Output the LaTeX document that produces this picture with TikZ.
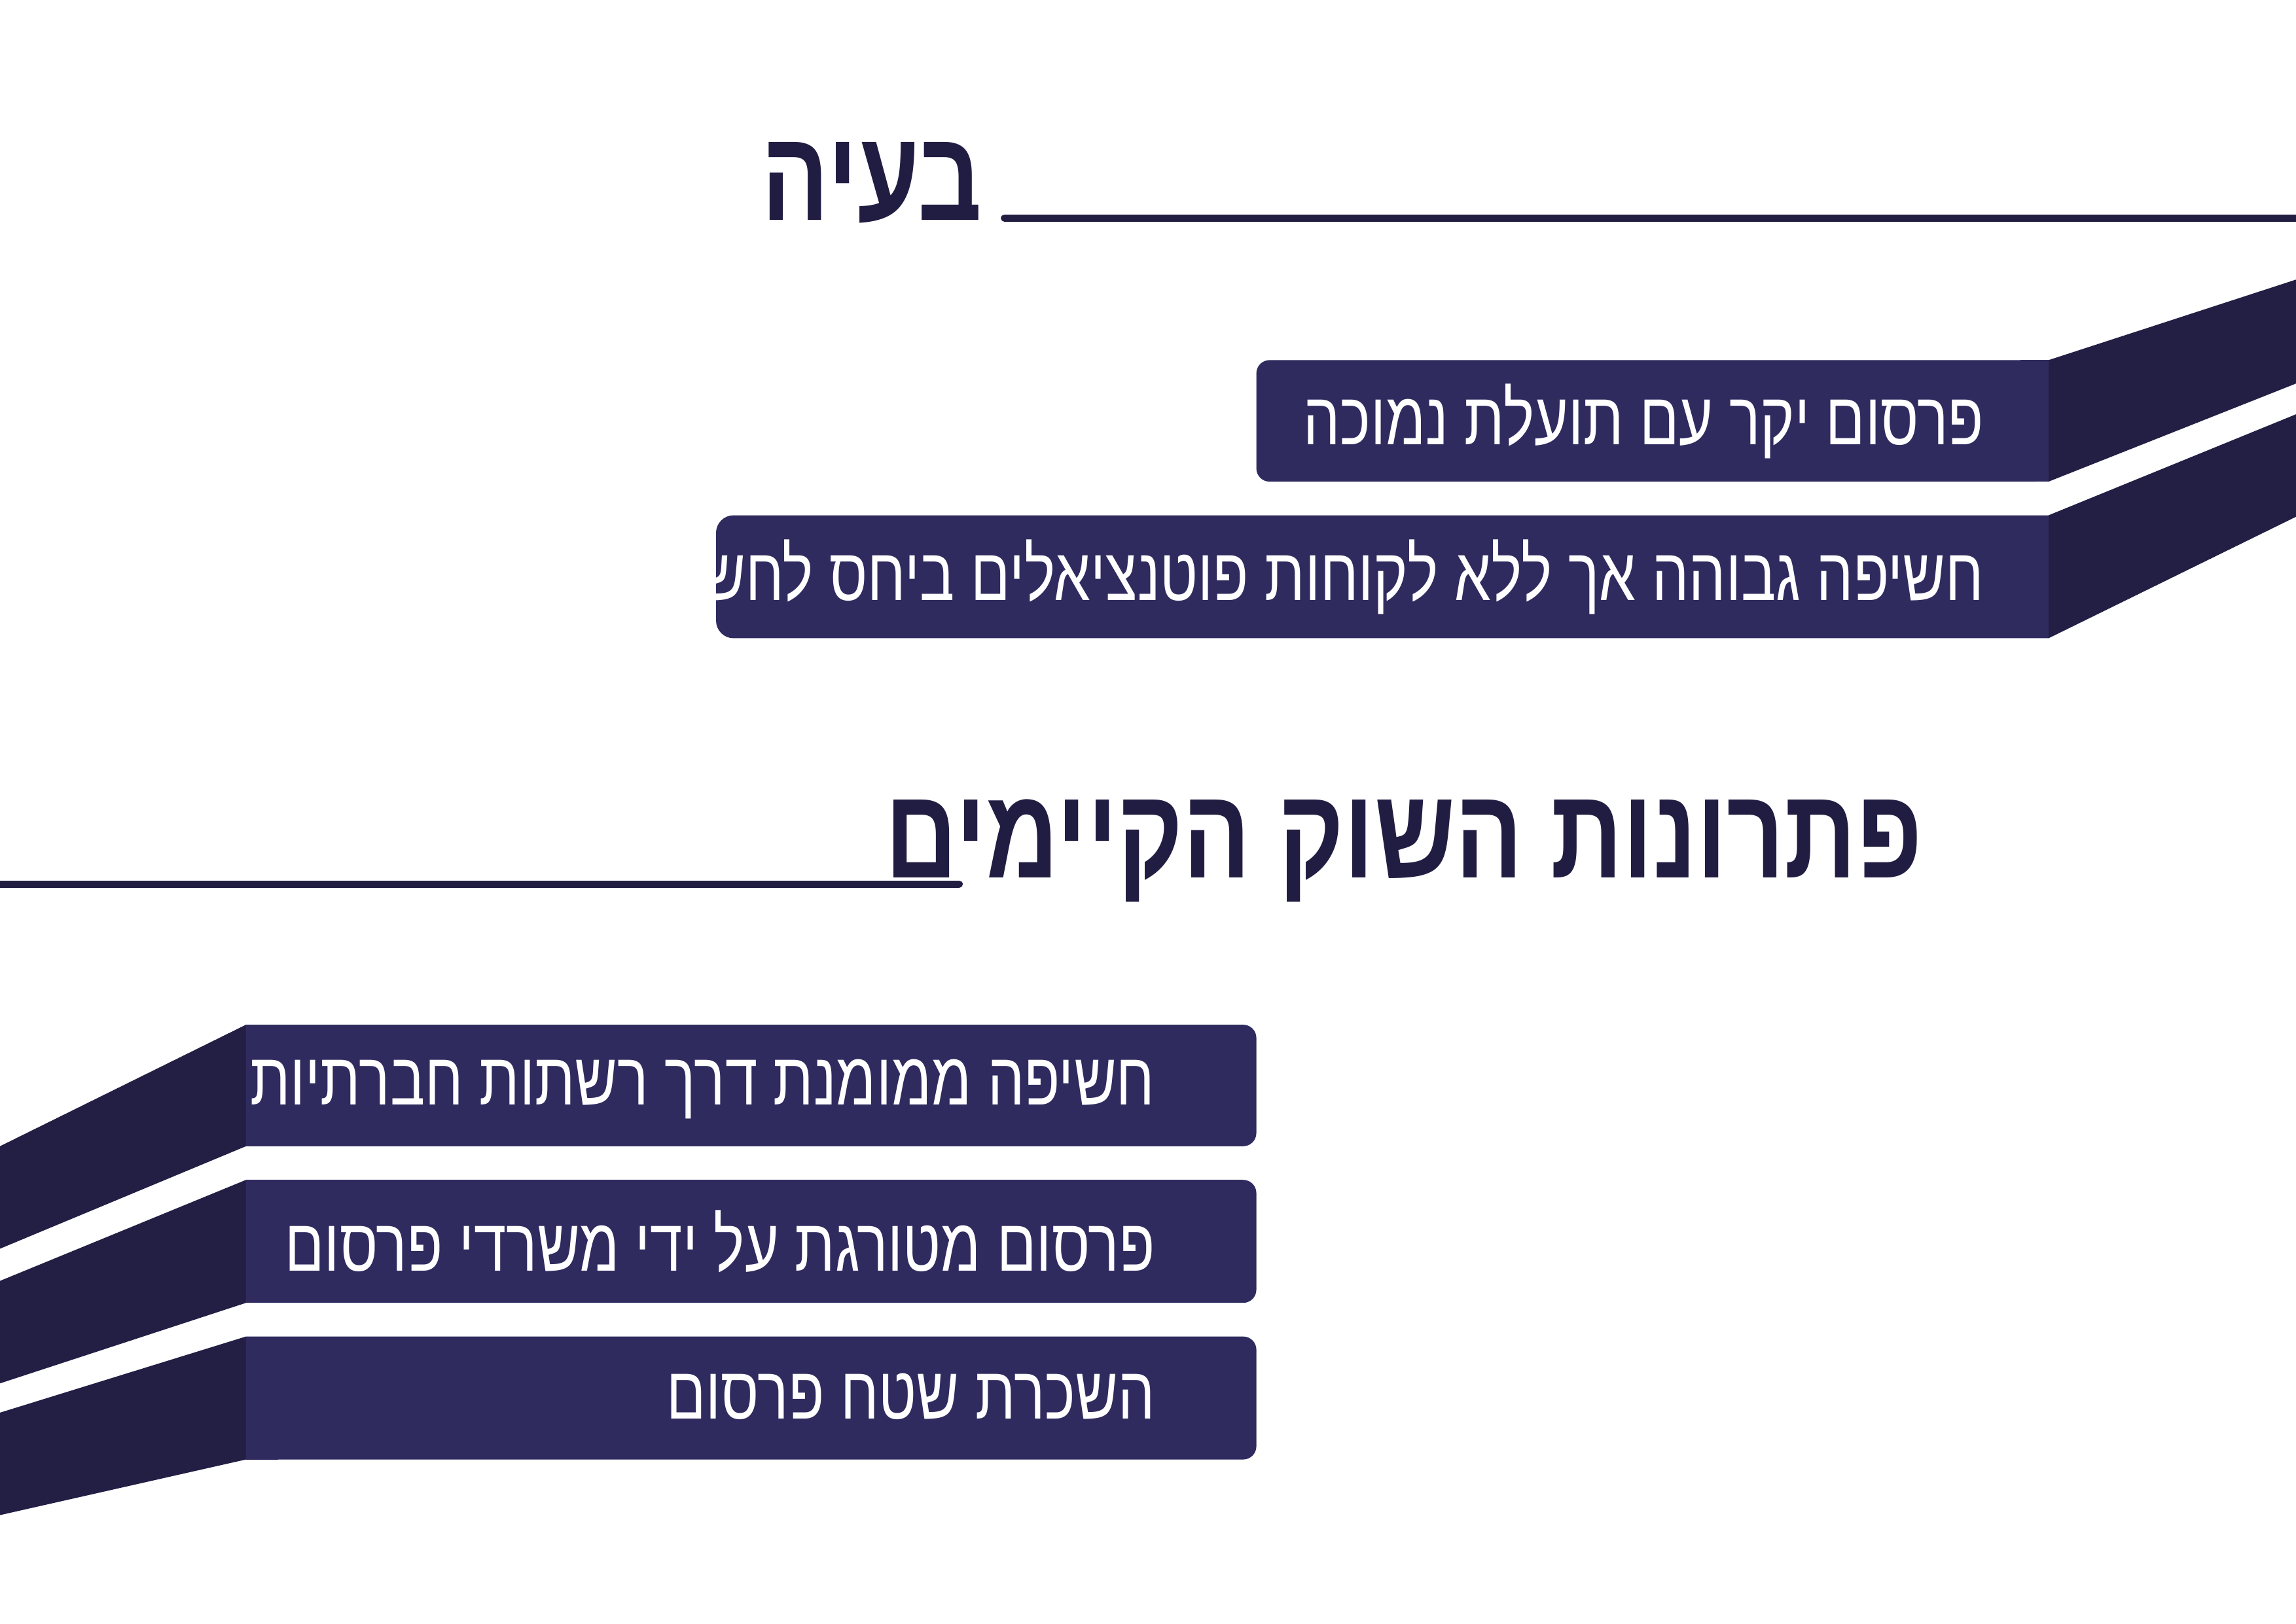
\documentclass[tikz,border=0pt]{standalone}
\usepackage{fontspec}
\TeXXeTstate=1
\newfontfamily\heb[Script=Hebrew,FakeStretch=0.78]{Liberation Sans}
\definecolor{boxc}{HTML}{2F2B5F}
\definecolor{darkc}{HTML}{221E44}
\definecolor{titc}{HTML}{211D42}
\tikzset{
 x=0.02cm,y=-0.02cm,
 lbl/.style={anchor=east,text=white,font=\heb\fontsize{29}{32}\selectfont,inner sep=0},
 ttl/.style={anchor=east,text=titc,font=\heb\bfseries\fontsize{50}{56}\selectfont,inner sep=0},
 rule/.style={draw=titc,line width=5*0.02cm,line cap=round},
}
\begin{document}
\begin{tikzpicture}
\useasboundingbox (0,0) rectangle (1568,1109);
\fill[white] (0,0) rectangle (1568,1109);
% titles
\node[ttl] (t1) at (671,125) {\beginR בעיה\endR};
\coordinate (l1a) at (686,149); \coordinate (l1b) at (1568,149);
\draw[rule] (l1a) -- (l1b);
\node[ttl] (t2) at (1313,581) {\beginR פתרונות השוק הקיימים\endR};
\coordinate (l2a) at (0,604); \coordinate (l2b) at (655,604);
\draw[rule] (l2a) -- (l2b);
% top boxes
\fill[darkc] (1399,246) -- (1568,191) -- (1568,262) -- (1399,329) -- cycle;
\fill[boxc,rounded corners=9*0.02cm] (1399,246) -- (858,246) -- (858,329) -- (1399,329) [sharp corners] -- cycle;
\fill[boxc] (1380,246) rectangle (1399,329);
\node[lbl] (b1) at (1355,288) {\beginR פרסום יקר עם תועלת נמוכה\endR};
\fill[darkc] (1399,352) -- (1568,283) -- (1568,353) -- (1399,436) -- cycle;
\fill[boxc,rounded corners=12*0.02cm] (1399,352) -- (489,352) -- (489,436) -- (1399,436);
\fill[boxc] (1380,352) rectangle (1399,436);
\node[lbl] (b2) at (1355,394) {\beginR חשיפה גבוהה אך ללא לקוחות פוטנציאלים ביחס לחשיפה\endR};
% bottom boxes
\fill[darkc] (0,783) -- (168,700) -- (168,783) -- (0,853) -- cycle;
\fill[boxc,rounded corners=9*0.02cm] (168,700) -- (858,700) -- (858,783) -- (168,783);
\fill[boxc] (168,700) rectangle (190,783);
\node[lbl] (b3) at (789,744) {\beginR חשיפה ממומנת דרך רשתות חברתיות\endR};
\fill[darkc] (0,875) -- (168,806) -- (168,890) -- (0,945) -- cycle;
\fill[boxc,rounded corners=9*0.02cm] (168,806) -- (858,806) -- (858,890) -- (168,890);
\fill[boxc] (168,806) rectangle (190,890);
\node[lbl] (b4) at (789,848) {\beginR פרסום מטורגת על ידי משרדי פרסום\endR};
\fill[darkc] (0,965) -- (168,913) -- (168,997) -- (0,1035) -- cycle;
\fill[boxc,rounded corners=9*0.02cm] (168,913) -- (858,913) -- (858,997) -- (168,997);
\fill[boxc] (168,913) rectangle (190,997);
\node[lbl] (b5) at (789,954) {\beginR השכרת שטח פרסום\endR};
\end{tikzpicture}
\end{document}
